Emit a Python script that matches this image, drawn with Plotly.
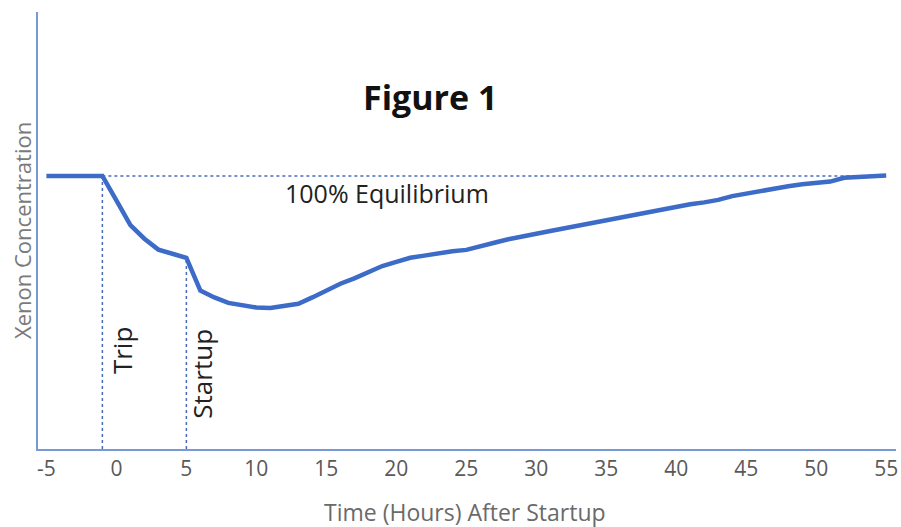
import plotly.graph_objects as go

hours = list(range(-5, 56))
xenon = [100, 100, 100, 100, 100, 91, 82, 77, 73, 71.5, 70,
         58, 55.5, 53.5, 52.5, 51.8, 51.6, 52.2, 53.2, 55.5, 58,
         60.5, 62.5, 64.8, 67, 68.5, 70, 70.8, 71.8, 72.4, 72.9,
         74, 75.5, 76.8, 78, 78.8, 79.8, 80.8, 81.8, 82.8, 83.8,
         84.6, 85.6, 86.4, 87.4, 88.6, 89.6, 90.3, 91.2, 92.6, 93.6,
         94.6, 95.4, 96.2, 96.9, 97.6, 97.9, 99.3, 99.6, 100.1, 100.1]

trip_hour = -1
startup_hour = 5
equilibrium = 100
tick_vals = list(range(-5, 56, 5))
tick_text = [str(v) for v in tick_vals]

fig = go.Figure()
dot_col = "#4a6bb8"
fig.add_trace(go.Scatter(x=[trip_hour, 55], y=[equilibrium, equilibrium], mode="lines",
                         line=dict(color=dot_col, width=1.5, dash="dot"), hoverinfo="skip"))
fig.add_trace(go.Scatter(x=[trip_hour, trip_hour], y=[0, equilibrium], mode="lines",
                         line=dict(color=dot_col, width=1.5, dash="dot"), hoverinfo="skip"))
su_val = xenon[hours.index(startup_hour)]
fig.add_trace(go.Scatter(x=[startup_hour, startup_hour], y=[0, su_val], mode="lines",
                         line=dict(color=dot_col, width=1.5, dash="dot"), hoverinfo="skip"))
fig.add_trace(go.Scatter(x=hours, y=xenon, mode="lines",
                         line=dict(color="#3c6bc8", width=4.5), hoverinfo="skip"))

font = "Open Sans, sans-serif"
fig.add_annotation(x=22.4, y=128.9, xref="x", yref="y", text="<b>Figure 1</b>", showarrow=False,
                   xanchor="center", yanchor="middle",
                   font=dict(family=font, size=34, color="#111111"))
fig.add_annotation(x=19.3, y=93.7, xref="x", yref="y", text="100% Equilibrium", showarrow=False,
                   xanchor="center", yanchor="middle",
                   font=dict(family=font, size=25, color="#222222"))
fig.add_annotation(x=0.4, y=36.2, xref="x", yref="y", text="Trip", showarrow=False, textangle=-90,
                   xanchor="center", yanchor="middle",
                   font=dict(family=font, size=26, color="#222222"))
fig.add_annotation(x=6.1, y=27.5, xref="x", yref="y", text="Startup", showarrow=False, textangle=-90,
                   xanchor="center", yanchor="middle",
                   font=dict(family=font, size=26, color="#222222"))
fig.add_annotation(x=0.4977, y=-0.144, xref="paper", yref="paper", text="Time (Hours) After Startup",
                   showarrow=False, xanchor="center", yanchor="middle",
                   font=dict(family=font, size=23, color="#6a6a6a"))
fig.add_annotation(x=-0.0186, y=0.499, xref="paper", yref="paper", text="Xenon Concentration",
                   showarrow=False, textangle=-90, xanchor="center", yanchor="middle",
                   font=dict(family=font, size=22, color="#7a7a7a"))

axis_col = "#7898d6"
fig.update_layout(
    width=901, height=527,
    margin=dict(l=38, r=5, t=12, b=78),
    paper_bgcolor="white", plot_bgcolor="white",
    showlegend=False,
    xaxis=dict(range=[-5.6, 55.7], tickvals=tick_vals, ticktext=tick_text, showgrid=False,
               zeroline=False, automargin=False,
               showline=True, linecolor=axis_col, linewidth=2, ticks="",
               tickfont=dict(family=font, size=21, color="#595959")),
    yaxis=dict(range=[0, 160], showticklabels=False, showgrid=False, zeroline=False,
               automargin=False,
               showline=True, linecolor=axis_col, linewidth=2, ticks=""),
)

fig.write_html("out.html", config={"displayModeBar": False},
               post_script="document.body.style.margin='0';document.body.style.overflow='hidden';")
